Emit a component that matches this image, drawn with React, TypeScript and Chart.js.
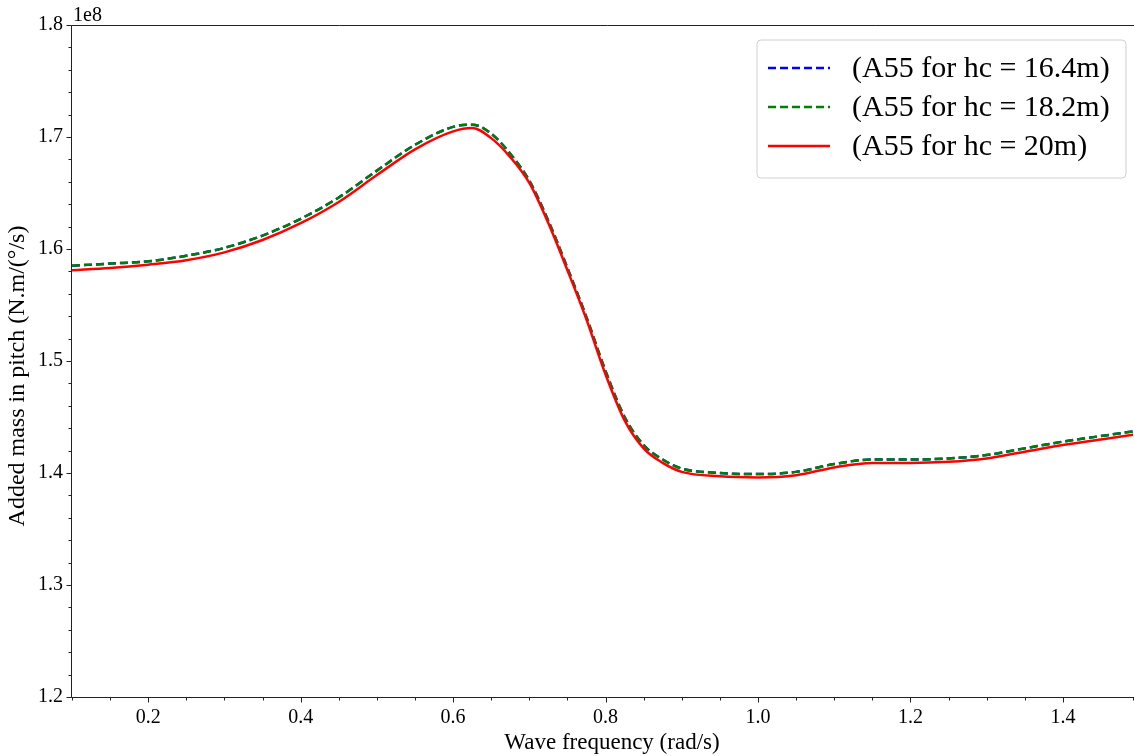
import React, { useEffect, useRef } from 'react';
import { Chart, registerables } from 'chart.js';

Chart.register(...registerables);

// Wave frequency (rad/s)
const freq = [0.10, 0.15, 0.20, 0.25, 0.30, 0.35, 0.40, 0.45, 0.50, 0.55, 0.60, 0.625, 0.65, 0.675, 0.70, 0.725, 0.75, 0.775, 0.80, 0.825, 0.85, 0.875, 0.90, 0.95, 1.00, 1.05, 1.10, 1.15, 1.20, 1.25, 1.30, 1.35, 1.40, 1.45, 1.50];

// Added mass in pitch, in units of 1e8
const a55Hc164 = [1.585, 1.587, 1.589, 1.594, 1.601, 1.612, 1.627, 1.646, 1.670, 1.693, 1.709, 1.711, 1.703, 1.685, 1.661, 1.625, 1.583, 1.539, 1.491, 1.450, 1.425, 1.412, 1.404, 1.400, 1.399, 1.401, 1.408, 1.412, 1.412, 1.413, 1.416, 1.422, 1.428, 1.433, 1.438];
const a55Hc182 = [1.585, 1.587, 1.589, 1.594, 1.601, 1.612, 1.627, 1.646, 1.670, 1.693, 1.709, 1.711, 1.703, 1.685, 1.661, 1.625, 1.583, 1.539, 1.491, 1.450, 1.425, 1.412, 1.404, 1.400, 1.399, 1.401, 1.408, 1.412, 1.412, 1.413, 1.416, 1.422, 1.428, 1.433, 1.438];
const a55Hc20 = [1.581, 1.583, 1.586, 1.590, 1.597, 1.608, 1.623, 1.642, 1.666, 1.689, 1.705, 1.708, 1.699, 1.682, 1.659, 1.623, 1.581, 1.537, 1.488, 1.447, 1.422, 1.409, 1.401, 1.397, 1.396, 1.398, 1.405, 1.409, 1.409, 1.410, 1.413, 1.419, 1.425, 1.430, 1.435];

const seriesLabels = ['(A55 for hc = 16.4m)', '(A55 for hc = 18.2m)', '(A55 for hc = 20m)'];
const seriesColors = ['#0000ff', '#008000', '#ff0000'];

const xTickLabels = ['0.2', '0.4', '0.6', '0.8', '1.0', '1.2', '1.4'];
const yTickLabels = ['1.2', '1.3', '1.4', '1.5', '1.6', '1.7', '1.8'];
const xTitle = 'Wave frequency (rad/s)';
const yTitle = 'Added mass in pitch (N.m/(°/s)';
const offsetText = '1e8';

const FONT = '"Liberation Serif", "Times New Roman", serif';
const AXIS_COLOR = '#222';

const labelFor = (list: string[], v: number) => {
  const hit = list.find((s) => Math.abs(parseFloat(s) - v) < 1e-6);
  return hit ?? '';
};

const framePlugin = {
  id: 'frameTicks',
  afterDraw(chart: any) {
    const { ctx, chartArea } = chart;
    const { left, right, top, bottom } = chartArea;
    ctx.save();
    ctx.strokeStyle = AXIS_COLOR;
    ctx.lineWidth = 1;
    const L = Math.round(left) - 0.5;
    const T = Math.round(top) + 0.5;
    const B = Math.round(bottom) + 0.5;
    // left, top and bottom spines (the right one lies past the picture's edge)
    ctx.beginPath();
    ctx.moveTo(right + 10, T);
    ctx.lineTo(L, T);
    ctx.lineTo(L, B);
    ctx.lineTo(right + 10, B);
    ctx.stroke();
    // ticks
    const xs = chart.scales.x;
    xs.ticks.forEach((t: any) => {
      const p = Math.round(xs.getPixelForValue(t.value)) + 0.5;
      const len = labelFor(xTickLabels, t.value) ? 5 : 3;
      ctx.beginPath();
      ctx.moveTo(p, B);
      ctx.lineTo(p, B + len);
      ctx.stroke();
    });
    const ys = chart.scales.y;
    ys.ticks.forEach((t: any) => {
      const p = Math.round(ys.getPixelForValue(t.value)) + 0.5;
      const len = labelFor(yTickLabels, t.value) ? 5 : 3;
      ctx.beginPath();
      ctx.moveTo(L, p);
      ctx.lineTo(L - len, p);
      ctx.stroke();
    });
    // offset text
    ctx.fillStyle = '#000';
    ctx.font = `20px ${FONT}`;
    ctx.textAlign = 'left';
    ctx.textBaseline = 'alphabetic';
    ctx.fillText(offsetText, left + 1, top - 4);

    // axis titles
    ctx.font = `23px ${FONT}`;
    ctx.textAlign = 'center';
    ctx.textBaseline = 'middle';
    ctx.fillText(xTitle, 612, 743);
    ctx.save();
    ctx.translate(18, 376);
    ctx.rotate(-Math.PI / 2);
    ctx.font = `24px ${FONT}`;
    ctx.fillText(yTitle, 0, 0);
    ctx.restore();

    // legend
    const bx = 757;
    const by = 40;
    const boxW = 369;
    const boxH = 138;
    ctx.beginPath();
    const r = 4;
    ctx.moveTo(bx + r, by);
    ctx.lineTo(bx + boxW - r, by);
    ctx.quadraticCurveTo(bx + boxW, by, bx + boxW, by + r);
    ctx.lineTo(bx + boxW, by + boxH - r);
    ctx.quadraticCurveTo(bx + boxW, by + boxH, bx + boxW - r, by + boxH);
    ctx.lineTo(bx + r, by + boxH);
    ctx.quadraticCurveTo(bx, by + boxH, bx, by + boxH - r);
    ctx.lineTo(bx, by + r);
    ctx.quadraticCurveTo(bx, by, bx + r, by);
    ctx.closePath();
    ctx.fillStyle = 'rgba(255,255,255,0.8)';
    ctx.fill();
    ctx.strokeStyle = '#d0d0d0';
    ctx.stroke();
    chart.data.datasets.forEach((ds: any, i: number) => {
      const yy = by + 28 + i * 39;
      ctx.save();
      ctx.strokeStyle = ds.borderColor;
      ctx.lineWidth = ds.borderWidth;
      ctx.setLineDash(ds.borderDash || []);
      ctx.beginPath();
      ctx.moveTo(bx + 11, yy);
      ctx.lineTo(bx + 73, yy);
      ctx.stroke();
      ctx.restore();
      ctx.fillStyle = '#000';
      ctx.font = `30px ${FONT}`;
      ctx.textBaseline = 'middle';
      ctx.textAlign = 'left';
      ctx.fillText(ds.label, bx + 95, yy + 1);
    });
    ctx.restore();
  },
};

export default function App() {
  const ref = useRef<HTMLCanvasElement | null>(null);
  useEffect(() => {
    document.body.style.margin = '0';
    if (!ref.current) return;
    const series = [a55Hc164, a55Hc182, a55Hc20];
    const chart = new Chart(ref.current, {
      type: 'line',
      data: {
        datasets: series.map((vals, i) => ({
          label: seriesLabels[i],
          data: freq.map((f, j) => ({ x: f, y: vals[j] })),
          borderColor: seriesColors[i],
          backgroundColor: seriesColors[i],
          borderWidth: 2.5,
          borderDash: i === 2 ? [] : [8, 4],
          pointRadius: 0,
          pointHoverRadius: 0,
          fill: false,
          cubicInterpolationMode: 'monotone' as const,
          order: 2 - i,
        })),
      },
      options: {
        responsive: false,
        animation: false,
        events: [],
        layout: { autoPadding: false, padding: { top: 25, right: 0, left: 0, bottom: 0 } },
        plugins: {
          legend: { display: false },
          tooltip: { enabled: false },
          title: { display: false },
        },
        scales: {
          x: {
            type: 'linear',
            min: 0.1,
            max: 1.492,
            border: { display: false },
            grid: { display: false, drawTicks: false },
            ticks: {
              stepSize: 0.05,
              autoSkip: false,
              maxRotation: 0,
              padding: 9,
              color: '#000',
              font: { family: FONT, size: 20 },
              callback: (v: any) => labelFor(xTickLabels, Number(v)),
            },
            title: { display: false },
            afterFit: (s: any) => {
              s.height = 59;
            },
          },
          y: {
            type: 'linear',
            min: 1.2,
            max: 1.8,
            border: { display: false },
            grid: { display: false, drawTicks: false },
            ticks: {
              stepSize: 0.02,
              autoSkip: false,
              padding: 9,
              color: '#000',
              font: { family: FONT, size: 20 },
              callback: (v: any) => labelFor(yTickLabels, Number(v)),
            },
            title: { display: false },
            afterFit: (s: any) => {
              s.width = 72;
            },
          },
        },
      },
      plugins: [framePlugin],
    });
    return () => chart.destroy();
  }, []);
  return (
    <div style={{ position: 'fixed', left: 0, top: 0, width: 1134, height: 756, overflow: 'hidden', background: '#fff' }}>
      <div style={{ width: 1142, height: 756 }}>
        <canvas ref={ref} width={1142} height={756} style={{ display: 'block', width: 1142, height: 756 }} />
      </div>
    </div>
  );
}
